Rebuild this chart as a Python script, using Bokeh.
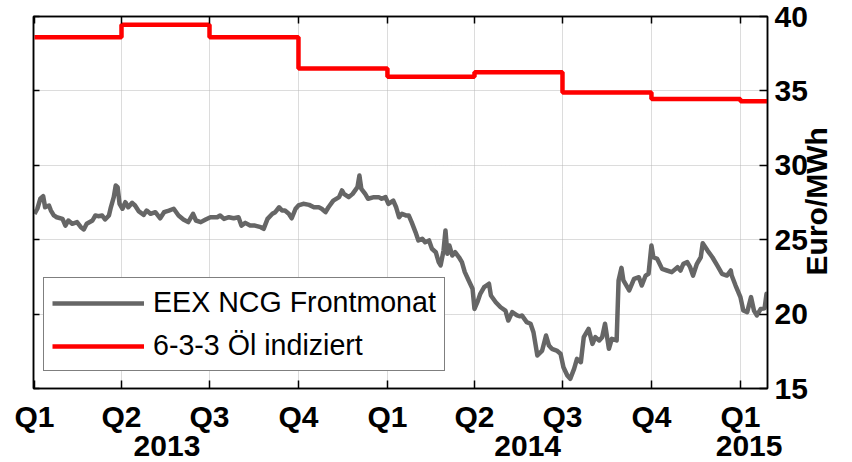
import math
from bokeh.plotting import figure
from bokeh.models import (Range1d, FixedTicker, LinearAxis, Legend, LegendItem,
                          ColumnDataSource)
from bokeh.embed import file_html
from bokeh.resources import INLINE

# ---------------- data ----------------
# EEX NCG Frontmonat (Euro/MWh); x = days after 2013-01-01
ncg_day = [0, 3, 6, 9, 11, 15, 17, 20, 23, 29, 32, 35, 39, 44, 48, 51, 54, 60, 63, 66, 70, 73,
           77, 79, 82, 84, 86, 88, 91, 94, 97, 101, 104, 108, 113, 116, 120, 125, 130, 134, 139,
           144, 149, 154, 159, 164, 167, 172, 177, 182, 189, 192, 196, 201, 206, 211, 214, 218,
           223, 228, 234, 237, 241, 246, 249, 253, 256, 259, 263, 266, 270, 273, 278, 284, 289,
           294, 297, 301, 304, 309, 315, 318, 320, 325, 329, 334, 336, 338, 342, 345, 351, 356,
           359, 363, 366, 371, 374, 377, 380, 384, 387, 390, 394, 397, 401, 404, 408, 411, 415,
           418, 420, 423, 425, 427, 429, 432, 435, 439, 442, 445, 449, 453, 455, 458, 461, 465,
           470, 472, 477, 482, 487, 490, 494, 499, 502, 504, 509, 513, 516, 520, 525, 529, 532,
           535, 540, 544, 547, 551, 554, 558, 561, 565, 568, 573, 577, 580, 584, 587, 590, 594,
           597, 602, 604, 607, 609, 615, 620, 625, 628, 632, 635, 638, 640, 644, 649, 654, 659,
           665, 668, 671, 675, 678, 681, 685, 689, 691, 696, 701, 706, 711, 716, 720, 721, 725,
           730, 733, 737, 741, 744, 747, 751, 755, 757, 758]
ncg_price = [26.74, 27.08, 27.75, 27.92, 27.18, 27.30, 26.96, 26.63, 26.51, 26.40, 25.95, 26.29,
             26.07, 26.18, 25.84, 25.69, 26.07, 26.29, 26.63, 26.58, 26.63, 26.36, 26.63, 27.18,
             27.86, 28.64, 28.53, 27.41, 27.08, 27.52, 27.18, 27.48, 27.30, 26.90, 26.67, 26.96,
             26.74, 26.85, 26.44, 26.85, 26.96, 27.08, 26.63, 26.36, 26.18, 26.74, 26.29, 26.18,
             26.36, 26.51, 26.51, 26.63, 26.40, 26.51, 26.44, 26.51, 25.95, 26.13, 25.95, 25.95,
             25.84, 25.73, 26.40, 26.74, 26.85, 27.18, 26.96, 26.96, 26.74, 26.44, 27.08, 27.30,
             27.41, 27.34, 27.18, 27.18, 27.08, 26.85, 27.18, 27.63, 27.86, 28.31, 28.08, 27.86,
             28.08, 28.53, 29.31, 28.42, 28.08, 27.75, 27.86, 27.86, 27.75, 27.86, 27.41, 27.63,
             27.18, 26.51, 26.74, 26.63, 26.63, 26.18, 25.51, 24.95, 25.06, 24.83, 24.95, 24.39,
             24.16, 23.49, 23.27, 24.27, 25.62, 24.05, 24.61, 23.94, 24.16, 23.82, 23.49, 22.82,
             22.26, 21.70, 20.35, 20.80, 21.36, 21.81, 22.04, 21.25, 20.80, 20.46, 20.24, 19.57,
             20.13, 19.91, 19.85, 19.91, 19.46, 19.35, 18.78, 17.22, 17.55, 18.56, 17.89, 17.67,
             17.55, 17.33, 16.43, 15.87, 15.65, 16.32, 16.99, 16.77, 18.45, 19.01, 18.00, 18.45,
             18.23, 18.45, 19.35, 17.67, 18.34, 18.23, 22.26, 23.11, 22.26, 21.59, 22.37, 22.48,
             21.92, 22.59, 22.71, 24.61, 23.82, 23.71, 23.04, 22.93, 22.82, 23.15, 22.93, 23.38,
             23.49, 23.15, 22.59, 23.38, 23.82, 24.76, 24.27, 23.82, 23.27, 22.71, 22.59, 22.93,
             22.59, 21.92, 21.14, 20.24, 20.13, 21.14, 20.24, 19.91, 20.35, 20.39, 21.36, 21.14]

# 6-3-3 Öl indiziert (Euro/MWh), constant within each quarter
oil_day = [0, 90, 181, 273, 365, 455, 546, 638, 730, 758]
oil_price = [38.6, 39.45, 38.6, 36.5, 35.95, 36.25, 34.9, 34.45, 34.3, 34.3]

quarter_day = [0, 90, 181, 273, 365, 455, 546, 638, 730]
quarter_label = ["Q1", "Q2", "Q3", "Q4", "Q1", "Q2", "Q3", "Q4", "Q1"]
year_day = [137, 510, 739]
year_label = ["2013", "2014", "2015"]
y_ticks = [15, 20, 25, 30, 35, 40]

series_names = ["EEX NCG Frontmonat", "6-3-3 Öl indiziert"]
y_title = "Euro/MWh"
y_title_start = 22.6   # value at which the vertical title begins (reads upward)

# ---------------- figure ----------------
FONT = "Liberation Sans"
W, H = 852, 462
BL, BR, BT, BB = 33, 85, 16, 74

p = figure(width=W, height=H, x_range=Range1d(-1, 758), y_range=Range1d(15, 40),
           toolbar_location=None, output_backend="svg", y_axis_location="right",
           min_border_left=BL, min_border_right=BR, min_border_top=BT, min_border_bottom=BB)
p.background_fill_color = "white"
p.border_fill_color = "white"
p.outline_line_color = "black"
p.outline_line_width = 1.5


def no_minor(ax):
    ax.minor_tick_in = 0
    ax.minor_tick_out = 0
    ax.axis_label_standoff = 0


def bold_labels(ax, size="30px"):
    ax.major_label_text_font = FONT
    ax.major_label_text_font_style = "bold"
    ax.major_label_text_font_size = size
    ax.major_label_text_color = "black"


# bottom axis (quarters)
xa = p.xaxis[0]
xa.ticker = FixedTicker(ticks=quarter_day)
xa.major_label_overrides = {d: s for d, s in zip(quarter_day, quarter_label)}
bold_labels(xa)
xa.major_label_standoff = 11
xa.major_tick_in = 8
xa.major_tick_out = 0
xa.axis_line_width = 1.5
xa.major_tick_line_width = 1.5
no_minor(xa)

# second bottom axis (years)
year_axis = LinearAxis(ticker=FixedTicker(ticks=year_day),
                       major_label_overrides={d: s for d, s in zip(year_day, year_label)},
                       major_label_standoff=0, major_tick_in=0, major_tick_out=0,
                       axis_line_color=None, major_tick_line_color=None)
bold_labels(year_axis)
no_minor(year_axis)
p.add_layout(year_axis, "below")

# right axis (values)
ya = p.yaxis[0]
ya.ticker = FixedTicker(ticks=y_ticks)
bold_labels(ya)
ya.major_label_standoff = 7
ya.major_tick_in = 8
ya.major_tick_out = 0
ya.axis_line_width = 1.5
ya.major_tick_line_width = 1.5
no_minor(ya)

# outer right axis carrying the vertical title "Euro/MWh" (reads bottom to top)
title_axis = LinearAxis(ticker=FixedTicker(ticks=[y_title_start]),
                        major_label_overrides={y_title_start: y_title},
                        major_label_orientation=math.pi / 2,
                        major_label_standoff=6, major_tick_in=0, major_tick_out=0,
                        axis_line_color=None, major_tick_line_color=None)
bold_labels(title_axis)
no_minor(title_axis)
p.add_layout(title_axis, "right")

# top and left axes: inward ticks only
top = LinearAxis(ticker=FixedTicker(ticks=quarter_day), major_label_text_font_size="0px",
                 major_label_standoff=0, major_tick_in=7, major_tick_out=0,
                 axis_line_width=1.5, major_tick_line_width=1.5)
no_minor(top)
p.add_layout(top, "above")
left = LinearAxis(ticker=FixedTicker(ticks=y_ticks), major_label_text_font_size="0px",
                  major_label_standoff=0, major_tick_in=6, major_tick_out=0,
                  axis_line_width=1.5, major_tick_line_width=1.5)
no_minor(left)
p.add_layout(left, "left")

# grid
p.xgrid.ticker = FixedTicker(ticks=quarter_day)
p.ygrid.ticker = FixedTicker(ticks=y_ticks)
for g in (p.xgrid[0], p.ygrid[0]):
    g.grid_line_color = "#b8b8b8"
    g.grid_line_dash = "1 1"
    g.grid_line_width = 1

# lines
src_ncg = ColumnDataSource(dict(x=ncg_day, y=ncg_price))
r_ncg = p.line("x", "y", source=src_ncg, line_color="#666666", line_width=4.5,
               line_join="round")
src_oil = ColumnDataSource(dict(x=oil_day, y=oil_price))
r_oil = p.step("x", "y", source=src_oil, mode="after", line_color="#ff0000", line_width=4.5)

# legend
legend = Legend(items=[LegendItem(label=series_names[0], renderers=[r_ncg]),
                       LegendItem(label=series_names[1], renderers=[r_oil])],
                location=(10, 17), orientation="vertical",
                label_text_font=FONT, label_text_font_size="28.6px", label_text_color="black",
                label_height=32, glyph_height=32, glyph_width=92, label_standoff=9,
                padding=8, spacing=10, margin=0,
                border_line_color="black", border_line_width=1.5,
                background_fill_color="white", background_fill_alpha=1.0)
p.add_layout(legend)

open("out.html", "w").write(file_html(p, INLINE))
